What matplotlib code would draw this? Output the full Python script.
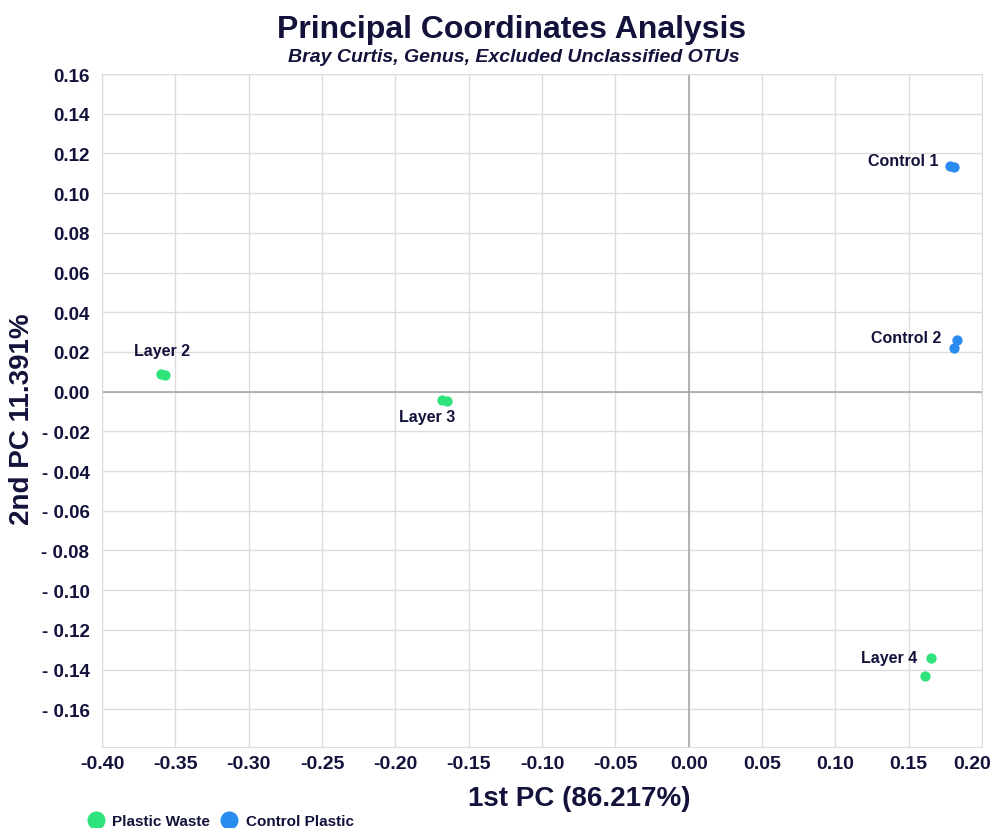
import matplotlib.pyplot as plt
from matplotlib.lines import Line2D
from matplotlib.ticker import FuncFormatter
from matplotlib.transforms import offset_copy

# PCoA coordinates
waste_x = [-0.360, -0.357, -0.168, -0.165, 0.165, 0.161]
waste_y = [0.0088, 0.0082, -0.0042, -0.0048, -0.134, -0.143]
control_x = [0.178, 0.181, 0.183, 0.181]
control_y = [0.1135, 0.113, 0.026, 0.022]

labels = ['Layer 2', 'Layer 3', 'Layer 4', 'Control 1', 'Control 2']
label_x = [-0.359, -0.178, 0.1556, 0.170, 0.172]
label_y = [0.0207, -0.0126, -0.134, 0.1164, 0.0272]
label_ha = ['center', 'center', 'right', 'right', 'right']

x_ticks = [-0.40, -0.35, -0.30, -0.25, -0.20, -0.15, -0.10, -0.05, 0.00, 0.05, 0.10, 0.15, 0.20]
y_ticks = [0.16, 0.14, 0.12, 0.10, 0.08, 0.06, 0.04, 0.02, 0.00, -0.02, -0.04,
           -0.06, -0.08, -0.10, -0.12, -0.14, -0.16]

green = '#2ee27c'
blue = '#2b8cef'
navy = '#12123a'

plt.rcParams['font.family'] = ['Liberation Sans', 'DejaVu Sans']

fig = plt.figure(figsize=(9.93, 8.29), dpi=100)
ax = fig.add_axes([0.1027, 0.0977, 0.8863, 0.8118])

ax.set_xlim(-0.40, 0.20)
ax.set_ylim(-0.179, 0.16)

ax.grid(True, color='#dcdcdc', linewidth=1)
ax.set_axisbelow(True)
ax.axhline(0, color='#a8a8a8', linewidth=1.2, zorder=1)
ax.axvline(0, color='#a8a8a8', linewidth=1.2, zorder=1)
for s in ax.spines.values():
    s.set_color('#dcdcdc')

ax.scatter(waste_x, waste_y, s=55, color=green, zorder=3, linewidths=0)
ax.scatter(control_x, control_y, s=55, color=blue, zorder=3, linewidths=0)

for t, lx, ly, ha in zip(labels, label_x, label_y, label_ha):
    ax.text(lx, ly, t, ha=ha, va='center', fontsize=11.5, fontweight='bold', color=navy)

ax.set_xticks(x_ticks)
ax.set_yticks(y_ticks)
ax.xaxis.set_major_formatter(FuncFormatter(lambda v, p: f'{v:.2f}'))
ax.yaxis.set_major_formatter(FuncFormatter(
    lambda v, p: f'- {abs(v):.2f}' if v < -1e-9 else f'{abs(v):.2f}'))
ax.tick_params(length=0, labelcolor=navy)
ax.tick_params(axis='x', pad=6, labelsize=14)
ax.tick_params(axis='y', pad=9, labelsize=13.5)
for lab in ax.get_xticklabels() + ax.get_yticklabels():
    lab.set_fontweight('bold')

# last x label is pulled in so it stays inside the figure
fig.canvas.draw()
last = ax.get_xticklabels()[-1]
last.set_ha('right')
last.set_transform(offset_copy(last.get_transform(), fig=fig, x=9, units='dots'))

ax.set_xlabel('1st PC (86.217%)', fontsize=20, fontweight='bold', color=navy)
ax.xaxis.set_label_coords(0.542, -0.056)
ax.set_ylabel('2nd PC 11.391%', fontsize=20, fontweight='bold', color=navy)
ax.yaxis.set_label_coords(-0.076, 0.488)

fig.text(0.515, 0.964, 'Principal Coordinates Analysis', ha='center', va='center',
         fontsize=23, fontweight='bold', color=navy)
fig.text(0.517, 0.931, 'Bray Curtis, Genus, Excluded Unclassified OTUs', ha='center', va='center',
         fontsize=14, fontweight='bold', style='italic', color=navy)

handles = [Line2D([], [], marker='o', linestyle='', markersize=12, color=green, label='Plastic Waste'),
           Line2D([], [], marker='o', linestyle='', markersize=12, color=blue, label='Control Plastic')]
leg = fig.legend(handles=handles, loc='center left', bbox_to_anchor=(0.081, 0.008), ncol=2,
                 frameon=False, handletextpad=0.05, columnspacing=0.3, borderaxespad=0,
                 borderpad=0, prop={'weight': 'bold', 'size': 11})
for t in leg.get_texts():
    t.set_color(navy)

fig.savefig('out.png', dpi=100)
